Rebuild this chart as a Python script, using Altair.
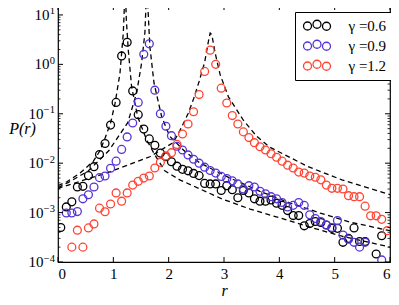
import altair as alt
import pandas as pd

# ---------------- data ----------------
labels = ["γ =0.6", "γ =0.9", "γ =1.2"]
colors = ["#000000", "#5533d8", "#ff4433"]

black_r = [0.05, 0.15, 0.25, 0.35, 0.45, 0.55, 0.65, 0.75, 0.85, 0.95,
           1.05, 1.15, 1.25, 1.35, 1.45, 1.55, 1.65, 1.75, 1.85, 1.95,
           2.05, 2.15, 2.25, 2.35, 2.45, 2.55, 2.65, 2.75, 2.85, 2.95,
           3.05, 3.15, 3.25, 3.35, 3.45, 3.55, 3.65, 3.75, 3.85, 3.95,
           4.05, 4.15, 4.25, 4.35, 4.45, 4.55, 4.65, 4.75, 4.85, 4.95,
           5.05, 5.15, 5.25, 5.35, 5.45, 5.55, 5.75, 5.85]
black_P = [5.0e-4, 1.3e-3, 1.65e-3, 3.3e-3, 3.4e-3, 5.6e-3, 8.5e-3, 0.015, 0.025, 0.059,
           0.17, 1.48, 2.8, 0.29, 0.096, 0.049, 0.031, 0.023, 0.016, 0.0135,
           0.0107, 0.0087, 0.0075, 0.0070, 0.0062, 0.0056, 0.0039, 0.0038, 0.0038, 0.0028,
           0.0035, 0.0029, 0.0020, 0.0028, 0.0025, 0.0019, 0.0017, 0.0017, 0.0018, 0.00155,
           0.0014, 0.0011, 0.00087, 0.00087, 0.00054, 0.0006, 0.00066, 0.00063, 0.00056, 0.00048,
           0.00048, 0.00025, 0.0003, 0.00049, 0.00026, 0.00026, 0.000145, 0.00034]

blue_r = [0.15, 0.25, 0.35, 0.45, 0.55, 0.65, 0.75, 0.85, 0.95,
          1.05, 1.15, 1.25, 1.35, 1.45, 1.55, 1.65, 1.75, 1.85, 1.95,
          2.05, 2.15, 2.25, 2.35, 2.45, 2.55, 2.65, 2.75, 2.85, 2.95,
          3.05, 3.15, 3.25, 3.35, 3.45, 3.55, 3.65, 3.75, 3.85, 3.95,
          4.05, 4.15, 4.25, 4.35, 4.45, 4.55, 4.65, 4.75, 4.85, 4.95,
          5.05, 5.15, 5.25, 5.35, 5.45, 5.55, 5.85]
blue_P = [9.8e-4, 9.8e-4, 1.05e-3, 1.9e-3, 2.3e-3, 3.3e-3, 5.1e-3, 5.5e-3, 7.9e-3,
          0.011, 0.019, 0.034, 0.065, 0.17, 1.6, 2.6, 0.30, 0.10, 0.056,
          0.036, 0.022, 0.0185, 0.0147, 0.012, 0.010, 0.0083, 0.0071, 0.0063, 0.0054,
          0.0049, 0.0044, 0.0038, 0.0030, 0.0035, 0.0033, 0.0027, 0.0024, 0.0021, 0.0019,
          0.0016, 0.0013, 0.0014, 0.0016, 0.0014, 0.0009, 0.00076, 0.00066, 0.00056, 0.0005,
          0.00069, 0.00035, 0.00029, 0.00025, 0.0002, 0.00025, 0.00011]

red_r = [0.25, 0.35, 0.45, 0.55, 0.65, 0.75, 0.85, 0.95,
         1.05, 1.15, 1.25, 1.35, 1.45, 1.55, 1.65, 1.75, 1.85, 1.95,
         2.05, 2.15, 2.25, 2.35, 2.45, 2.55, 2.65, 2.75, 2.85, 2.95,
         3.05, 3.15, 3.25, 3.35, 3.45, 3.55, 3.65, 3.75, 3.85, 3.95,
         4.05, 4.15, 4.25, 4.35, 4.45, 4.55, 4.65, 4.75, 4.85, 4.95,
         5.05, 5.15, 5.25, 5.35, 5.45, 5.55, 5.65, 5.75, 5.85, 5.95]
red_P = [0.0002, 0.00044, 0.0002, 0.00049, 0.00059, 0.00123, 0.00104, 0.00149,
         0.0025, 0.0017, 0.0025, 0.0036, 0.0043, 0.0050, 0.0055, 0.008, 0.0104, 0.014,
         0.0163, 0.024, 0.039, 0.062, 0.11, 0.245, 0.72, 1.94, 1.0, 0.33,
         0.165, 0.092, 0.062, 0.043, 0.033, 0.026, 0.0215, 0.0185, 0.0155, 0.0132,
         0.011, 0.0091, 0.0080, 0.0066, 0.0063, 0.0055, 0.0052, 0.0046, 0.0036, 0.0031,
         0.0031, 0.0030, 0.0022, 0.0021, 0.0021, 0.00135, 0.00086, 0.00086, 0.00073, 0.00043]

# theory curves (dashed)
th_black_r = [0.0, 0.16, 0.40, 0.64, 0.76, 0.85, 0.95, 1.03, 1.12, 1.18, 1.215,
              1.235, 1.27, 1.33, 1.44, 1.60, 1.75, 1.93, 2.20, 2.57, 2.96, 3.47,
              4.01, 4.55, 5.10, 6.0]
th_black_P = [3.5e-3, 4.2e-3, 6.3e-3, 0.011, 0.018, 0.032, 0.065, 0.16, 0.66, 4.3, 40,
              8.0, 1.95, 0.355, 0.087, 0.030, 0.0147, 0.0070, 0.0046, 0.0030, 0.0019, 0.00118,
              0.00078, 0.00051, 0.00034, 0.0002]
th_blue_r = [0.0, 0.19, 0.55, 0.92, 1.26, 1.42, 1.51, 1.57, 1.605, 1.66, 1.735,
             1.874, 2.02, 2.30, 2.57, 3.11, 3.65, 4.19, 4.74, 5.28, 6.0]
th_blue_P = [3.2e-3, 4.1e-3, 7.0e-3, 0.018, 0.066, 0.26, 1.05, 4.3, 40, 2.3, 0.42,
             0.087, 0.035, 0.017, 0.010, 0.0050, 0.0027, 0.00157, 0.00098, 0.00064, 0.00043]
th_red_r = [0.0, 0.04, 0.94, 1.66, 2.08, 2.2, 2.35, 2.45, 2.55, 2.65, 2.72, 2.75,
            2.78, 2.84, 2.93, 3.08, 3.35, 3.59, 3.83, 4.52, 5.13, 6.0]
th_red_P = [3.0e-3, 3.2e-3, 6.7e-3, 0.0135, 0.026, 0.045, 0.1, 0.2, 0.45, 1.1, 3.0, 4.3,
            4.0, 1.7, 0.62, 0.22, 0.074, 0.035, 0.021, 0.0085, 0.0046, 0.0023]

x_ticks = [0, 1, 2, 3, 4, 5, 6]
y_major = [1e-4, 1e-3, 1e-2, 1e-1, 1, 10]
y_exp = ["−4", "−3", "−2", "−1", "0", "1"]
y_minor = [m * d for d in [1e-4, 1e-3, 1e-2, 1e-1, 1, 10] for m in range(2, 10) if m * d < 15.9]

# ---------------- tables ----------------
W, H = 332, 257
YMIN, YMAX = 1e-4, 15.9
SERIF = "Liberation Serif"

pts = pd.concat([
    pd.DataFrame({"r": black_r, "P": black_P, "g": labels[0]}),
    pd.DataFrame({"r": blue_r, "P": blue_P, "g": labels[1]}),
    pd.DataFrame({"r": red_r, "P": red_P, "g": labels[2]}),
])
th = pd.concat([
    pd.DataFrame({"r": th_black_r, "P": th_black_P, "c": "a"}),
    pd.DataFrame({"r": th_blue_r, "P": th_blue_P, "c": "b"}),
    pd.DataFrame({"r": th_red_r, "P": th_red_P, "c": "c"}),
])
ymaj = pd.DataFrame({"P": y_major, "e": y_exp})
ymin_df = pd.DataFrame({"P": y_minor})
xt = pd.DataFrame({"r": x_ticks})

xscale = alt.Scale(domain=[0, 6], nice=False, zero=False)
yscale = alt.Scale(type="log", domain=[YMIN, YMAX], nice=False)

x_enc = alt.X("r:Q", scale=xscale, axis=alt.Axis(
    values=x_ticks, format="d", grid=False, ticks=False, domain=False,
    labelFont=SERIF, labelFontSize=15, labelColor="black", labelPadding=4,
    title="r", titleFont=SERIF, titleFontStyle="italic", titleFontWeight="normal",
    titleFontSize=16, titleColor="black", titlePadding=1))
y_enc = alt.Y("P:Q", scale=yscale, axis=alt.Axis(
    labels=False, grid=False, ticks=False, domain=False,
    title="P(r)", titleAngle=0, titleAlign="center", titleBaseline="middle",
    titleX=-36, titleY=123, titleFont=SERIF, titleFontStyle="italic",
    titleFontWeight="normal", titleFontSize=16, titleColor="black"))

# legend symbol: three small circles (middle one raised)
def circ(cx, cy, r):
    return f"M{cx - r},{cy}A{r},{r} 0 1,0 {cx + r},{cy}A{r},{r} 0 1,0 {cx - r},{cy}Z"

three = circ(-1.9, 0.1, 0.8) + circ(0, -0.25, 0.8) + circ(1.9, 0.15, 0.8)

lines = alt.Chart(th).mark_line(
    color="black", strokeDash=[5, 3.5], strokeWidth=1.3, clip=True
).encode(x=x_enc, y=y_enc, detail="c:N", order="r:Q")

points = alt.Chart(pts).mark_point(
    shape="circle", filled=False, size=62, strokeWidth=1.3, opacity=1, clip=True
).encode(
    x=alt.X("r:Q", scale=xscale),
    y=alt.Y("P:Q", scale=yscale),
    color=alt.Color("g:N", scale=alt.Scale(domain=labels, range=colors),
                    legend=alt.Legend(
                        orient="none", legendX=237, legendY=7, title=None,
                        symbolType=three, symbolSize=100, symbolStrokeWidth=1.3,
                        symbolOpacity=1,
                        symbolOffset=8.5, labelOffset=24,
                        labelFont=SERIF, labelFontSize=15, labelColor="black",
                        padding=6, rowPadding=3, strokeColor="black",
                        fillColor="white", cornerRadius=0)),
)

# inward ticks
yl_major = alt.Chart(ymaj).mark_rule(color="black", strokeWidth=1).encode(
    y=alt.Y("P:Q", scale=yscale), x=alt.value(0), x2=alt.value(5))
yr_major = alt.Chart(ymaj).mark_rule(color="black", strokeWidth=1).encode(
    y=alt.Y("P:Q", scale=yscale), x=alt.value(W), x2=alt.value(W - 5))
yl_minor = alt.Chart(ymin_df).mark_rule(color="black", strokeWidth=0.8).encode(
    y=alt.Y("P:Q", scale=yscale), x=alt.value(0), x2=alt.value(2.5))
yr_minor = alt.Chart(ymin_df).mark_rule(color="black", strokeWidth=0.8).encode(
    y=alt.Y("P:Q", scale=yscale), x=alt.value(W), x2=alt.value(W - 2.5))
xb = alt.Chart(xt).mark_rule(color="black", strokeWidth=1).encode(
    x=alt.X("r:Q", scale=xscale), y=alt.value(H), y2=alt.value(H - 5))
xtop = alt.Chart(xt).mark_rule(color="black", strokeWidth=1).encode(
    x=alt.X("r:Q", scale=xscale), y=alt.value(0), y2=alt.value(5))

# y tick labels: "10" + superscript exponent
ten_neg = alt.Chart(ymaj).transform_filter("length(datum.e) == 2").mark_text(
    align="right", baseline="middle", font=SERIF, fontSize=15, color="black", dx=-14.5
).encode(y=alt.Y("P:Q", scale=yscale), x=alt.value(0), text=alt.value("10"))
ten_pos = alt.Chart(ymaj).transform_filter("length(datum.e) == 1").mark_text(
    align="right", baseline="middle", font=SERIF, fontSize=15, color="black", dx=-8.5
).encode(y=alt.Y("P:Q", scale=yscale), x=alt.value(0), text=alt.value("10"))
exps = alt.Chart(ymaj).mark_text(
    align="right", baseline="middle", font=SERIF, fontSize=10.5, color="black",
    dx=-3, dy=-3.5
).encode(y=alt.Y("P:Q", scale=yscale), x=alt.value(0), text="e:N")

chart = alt.layer(
    lines, points, yl_major, yr_major, yl_minor, yr_minor, xb, xtop,
    ten_neg, ten_pos, exps
).properties(
    width=W, height=H,
    autosize=alt.AutoSizeParams(type="none"),
    padding={"left": 50, "top": -3, "right": 1, "bottom": 35},
).configure_view(stroke="black", strokeWidth=1.2)

chart.save("out.html", embed_options={"renderer": "svg", "actions": False})
